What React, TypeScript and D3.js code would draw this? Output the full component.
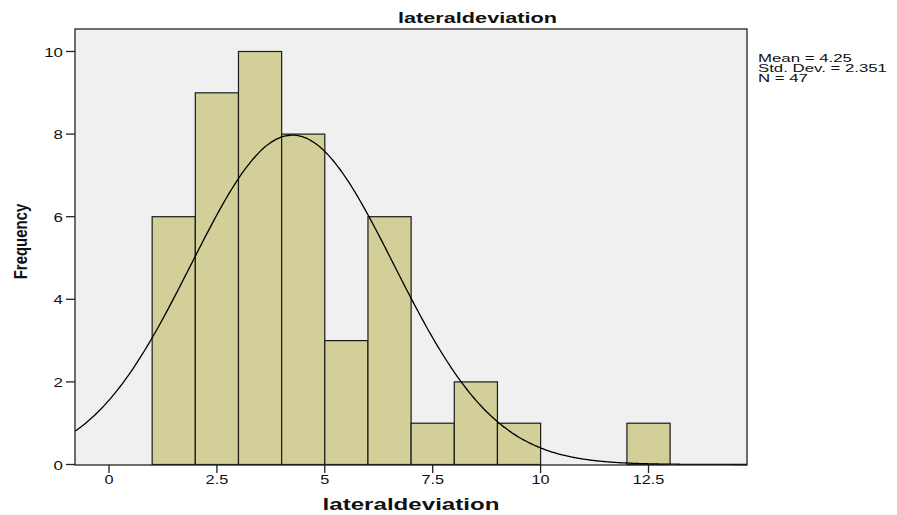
import React from 'react';
import * as d3 from 'd3';

const binStarts = [1, 2, 3, 4, 5, 6, 7, 8, 9, 10, 11, 12];
const binCounts = [6, 9, 10, 8, 3, 6, 1, 2, 1, 0, 0, 1];
const xTicks = [0, 2.5, 5, 7.5, 10, 12.5];
const yTicks = [0, 2, 4, 6, 8, 10];
const statLines = ['Mean = 4.25', 'Std. Dev. = 2.351', 'N = 47'];

const mean = 4.25;
const sd = 2.351;
const n = 47;
const binWidth = 1;

const width = 897;
const height = 515;
const plot = { left: 75, right: 747, top: 29, bottom: 465 };
const font = 'Liberation Sans, Arial, sans-serif';

// text stretched sideways, like the original export
const Wide = ({ x, y, sx = 1.4, anchor = 'start', size, bold = false, children }: any) => (
  <text
    transform={`translate(${x},${y}) scale(${sx},1)`}
    textAnchor={anchor}
    fontSize={size}
    fontWeight={bold ? 'bold' : 'normal'}
    fontFamily={font}
    fill="#111"
  >{children}</text>
);

const App = () => {
  const x = d3.scaleLinear().domain([0, 12.5]).range([109, 648.5]);
  const y = d3.scaleLinear().domain([0, 10]).range([464.5, 51.5]);

  const xMin = x.invert(plot.left);
  const xMax = x.invert(plot.right);

  // fitted normal curve from the stats shown in the chart
  const curvePts = d3.range(0, 301).map(i => {
    const v = xMin + (xMax - xMin) * i / 300;
    const z = (v - mean) / sd;
    return [v, n * binWidth * Math.exp(-0.5 * z * z) / (sd * Math.sqrt(2 * Math.PI))];
  });
  const line = d3.line<number[]>()
    .x(d => x(d[0]))
    .y(d => y(d[1]))
    .curve(d3.curveBasis);

  return (
    <svg width={width} height={height} style={{ position: 'absolute', left: 0, top: 0, background: '#fff' }}>
      {/* plot background */}
      <rect x={plot.left} y={plot.top} width={plot.right - plot.left} height={plot.bottom - plot.top} fill="#f0f0f0" />

      {/* bars */}
      {binStarts.map((s, i) => binCounts[i] > 0 && (
        <rect
          key={s}
          x={x(s)}
          y={y(binCounts[i])}
          width={x(s + binWidth) - x(s)}
          height={y(0) - y(binCounts[i])}
          fill="#d3cf99"
          stroke="#1a1a1a"
          strokeWidth={1.2}
        />
      ))}

      {/* normal curve */}
      <path d={line(curvePts) || ''} fill="none" stroke="#000" strokeWidth={1.3} />

      {/* frame */}
      <rect x={plot.left} y={plot.top} width={plot.right - plot.left} height={plot.bottom - plot.top} fill="none" stroke="#222" strokeWidth={1.3} />

      {/* y ticks */}
      {yTicks.map(t => (
        <g key={t}>
          <line x1={plot.left - 9} x2={plot.left} y1={y(t)} y2={y(t)} stroke="#222" strokeWidth={1.3} />
          <Wide x={plot.left - 12} y={y(t) + 5} anchor="end" size={13.5} sx={1.25}>{t}</Wide>
        </g>
      ))}

      {/* x ticks */}
      {xTicks.map(t => (
        <g key={t}>
          <line x1={x(t)} x2={x(t)} y1={plot.bottom} y2={plot.bottom + 8} stroke="#222" strokeWidth={1.3} />
          <Wide x={x(t)} y={plot.bottom + 18.5} anchor="middle" size={13} sx={1.25}>{t}</Wide>
        </g>
      ))}

      {/* titles */}
      <Wide x={477.5} y={23} anchor="middle" size={15.5} bold sx={1.4}>lateraldeviation</Wide>
      <Wide x={411} y={510} anchor="middle" size={17} bold sx={1.42}>lateraldeviation</Wide>
      <text
        transform={`translate(27,241.5) rotate(-90) scale(0.88,1.05)`}
        textAnchor="middle"
        fontSize={17}
        fontWeight="bold"
        fontFamily={font}
        fill="#111"
      >Frequency</text>

      {/* stats */}
      {statLines.map((s, i) => (
        <Wide key={s} x={758} y={61.7 + i * 10} size={10.5} sx={1.6}>{s}</Wide>
      ))}
    </svg>
  );
};

export default App;
